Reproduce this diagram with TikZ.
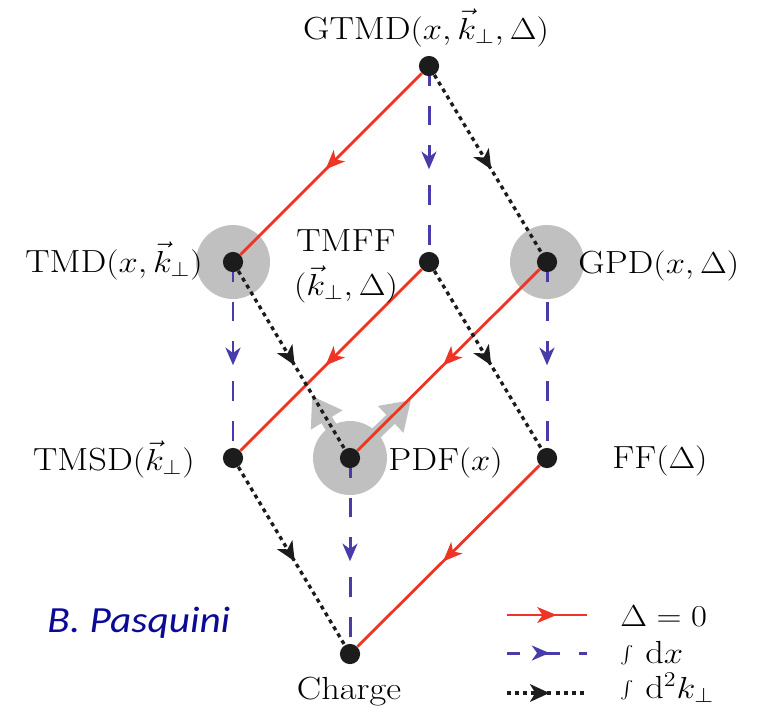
\documentclass[tikz,border=0pt]{standalone}
\usepackage{fontspec}
\usepackage{graphicx}
\newfontfamily\carlito{Carlito}
\usetikzlibrary{arrows.meta,decorations.markings}
\definecolor{redC}{RGB}{238,52,36}
\definecolor{blueC}{RGB}{72,60,170}
\definecolor{dotC}{RGB}{28,28,28}
\definecolor{haloC}{RGB}{192,192,192}
\definecolor{pasC}{RGB}{10,10,150}
\newcommand{\sx}[1]{\scalebox{1.14}[1]{#1}}
\pgfdeclarelayer{lines}
\pgfdeclarelayer{halos}
\pgfsetlayers{halos,lines,main}
\begin{document}
\begin{tikzpicture}[x=0.02cm,y=-0.02cm,
  dot/.style={circle,fill=dotC,inner sep=0pt,minimum size=11.5pt},
  lbl/.style={inner sep=0pt,font=\fontsize{18.2}{21}\selectfont},
  redl/.style={draw=redC,line width=1.6pt,postaction={decorate},
    decoration={markings,mark=at position #1 with {\arrow[redC]{Stealth[length=11pt,width=9pt,inset=3pt]}}}},
  redl/.default=0.53,
  bluel/.style={draw=blueC,line width=1.7pt,dash pattern=on 11.3pt off 11.3pt,dash phase=#1,postaction={decorate},
    decoration={markings,mark=at position 0.53 with {\arrow[blueC,solid]{Stealth[length=10pt,width=8.5pt,inset=3pt]}}}},
  bluel/.default=6pt,
  blackl/.style={draw=dotC,line width=1.9pt,dash pattern=on 2.3pt off 2.3pt,postaction={decorate},
    decoration={markings,mark=at position 0.53 with {\arrow[dotC,solid]{Stealth[length=11pt,width=10pt,inset=3pt]}}}},
  grayarr/.style={draw=haloC,line width=7pt,-{Triangle[length=16pt,width=20pt]}}
]
\useasboundingbox (0,0) rectangle (763,714);

% dots
\node[dot] (gtmd) at (429,66) {};
\node[dot] (tmd) at (233,262) {};
\node[dot] (tmff) at (429,262) {};
\node[dot] (gpd) at (547,262) {};
\node[dot] (tmsd) at (233,458) {};
\node[dot] (pdf) at (350,458) {};
\node[dot] (ff) at (547,458) {};
\node[dot] (charge) at (350,654) {};

% halos
\begin{pgfonlayer}{halos}
  \fill[haloC] (tmd.center) circle[radius=0.74cm];
  \fill[haloC] (gpd.center) circle[radius=0.74cm];
  \fill[haloC] (pdf.center) circle[radius=0.74cm];
  \coordinate (ga1) at (312,396);
  \coordinate (ga2) at (411,400);
  \draw[grayarr] (pdf.center) -- (ga1);
  \draw[grayarr] (pdf.center) -- (ga2);
\end{pgfonlayer}

% connectors
\begin{pgfonlayer}{lines}
  \draw[redl] (gtmd) -- (tmd);
  \draw[redl] (tmff) -- (tmsd);
  \draw[redl] (gpd) -- (pdf);
  \draw[redl] (ff) -- (charge);
  \draw[bluel] (gtmd) -- (tmff);
  \draw[bluel] (tmd) -- (tmsd);
  \draw[bluel] (gpd) -- (ff);
  \draw[bluel] (pdf) -- (charge);
  \draw[blackl] (gtmd) -- (gpd);
  \draw[blackl] (tmd) -- (pdf);
  \draw[blackl] (tmff) -- (ff);
  \draw[blackl] (tmsd) -- (charge);
  % legend
  \coordinate (l1a) at (507,615); \coordinate (l1b) at (587,615);
  \coordinate (l2a) at (507,653); \coordinate (l2b) at (587,653);
  \coordinate (l3a) at (507,693); \coordinate (l3b) at (587,693);
  \draw[redl=0.62] (l1a) -- (l1b);
  \draw[bluel=4pt] (l2a) -- (l2b);
  \draw[blackl] (l3a) -- (l3b);
\end{pgfonlayer}

% labels
\node[lbl,anchor=base] (tgtmd) at (426,39) {\sx{GTMD$(x,\vec k_\perp,\Delta)$}};
\node[lbl,anchor=base east] (ttmd) at (203,272) {\sx{TMD$(x,\vec k_\perp)$}};
\node[lbl,align=center,anchor=center,font=\fontsize{18.2}{25}\selectfont] (ttmff) at (346,266) {\sx{TMFF}\\\sx{$(\vec k_\perp,\Delta)$}};
\node[lbl,anchor=base west] (tgpd) at (578,273) {\sx{GPD$(x,\Delta)$}};
\node[lbl,anchor=base east] (ttmsd) at (195,470) {\sx{TMSD$(\vec k_\perp)$}};
\node[lbl,anchor=base west] (tpdf) at (388,470) {\sx{PDF$(x)$}};
\node[lbl,anchor=base west] (tff) at (612,468) {\sx{FF$(\Delta)$}};
\node[lbl,anchor=base] (tcharge) at (349,699) {\sx{Charge}};
\node[lbl,anchor=base west] (leg1) at (620,626) {\sx{$\Delta=0$}};
\node[lbl,anchor=base west] (leg2) at (620,663) {\sx{$\int\,\mathrm{d}x$}};
\node[lbl,anchor=base west] (leg3) at (620,698) {\sx{$\int\,\mathrm{d}^2k_\perp$}};
\node[anchor=base west,inner sep=0pt,text=pasC,font=\carlito\itshape\fontsize{21}{24}\selectfont] (auth) at (47,632) {\scalebox{1.12}[1]{B. Pasquini}};
\end{tikzpicture}
\end{document}
